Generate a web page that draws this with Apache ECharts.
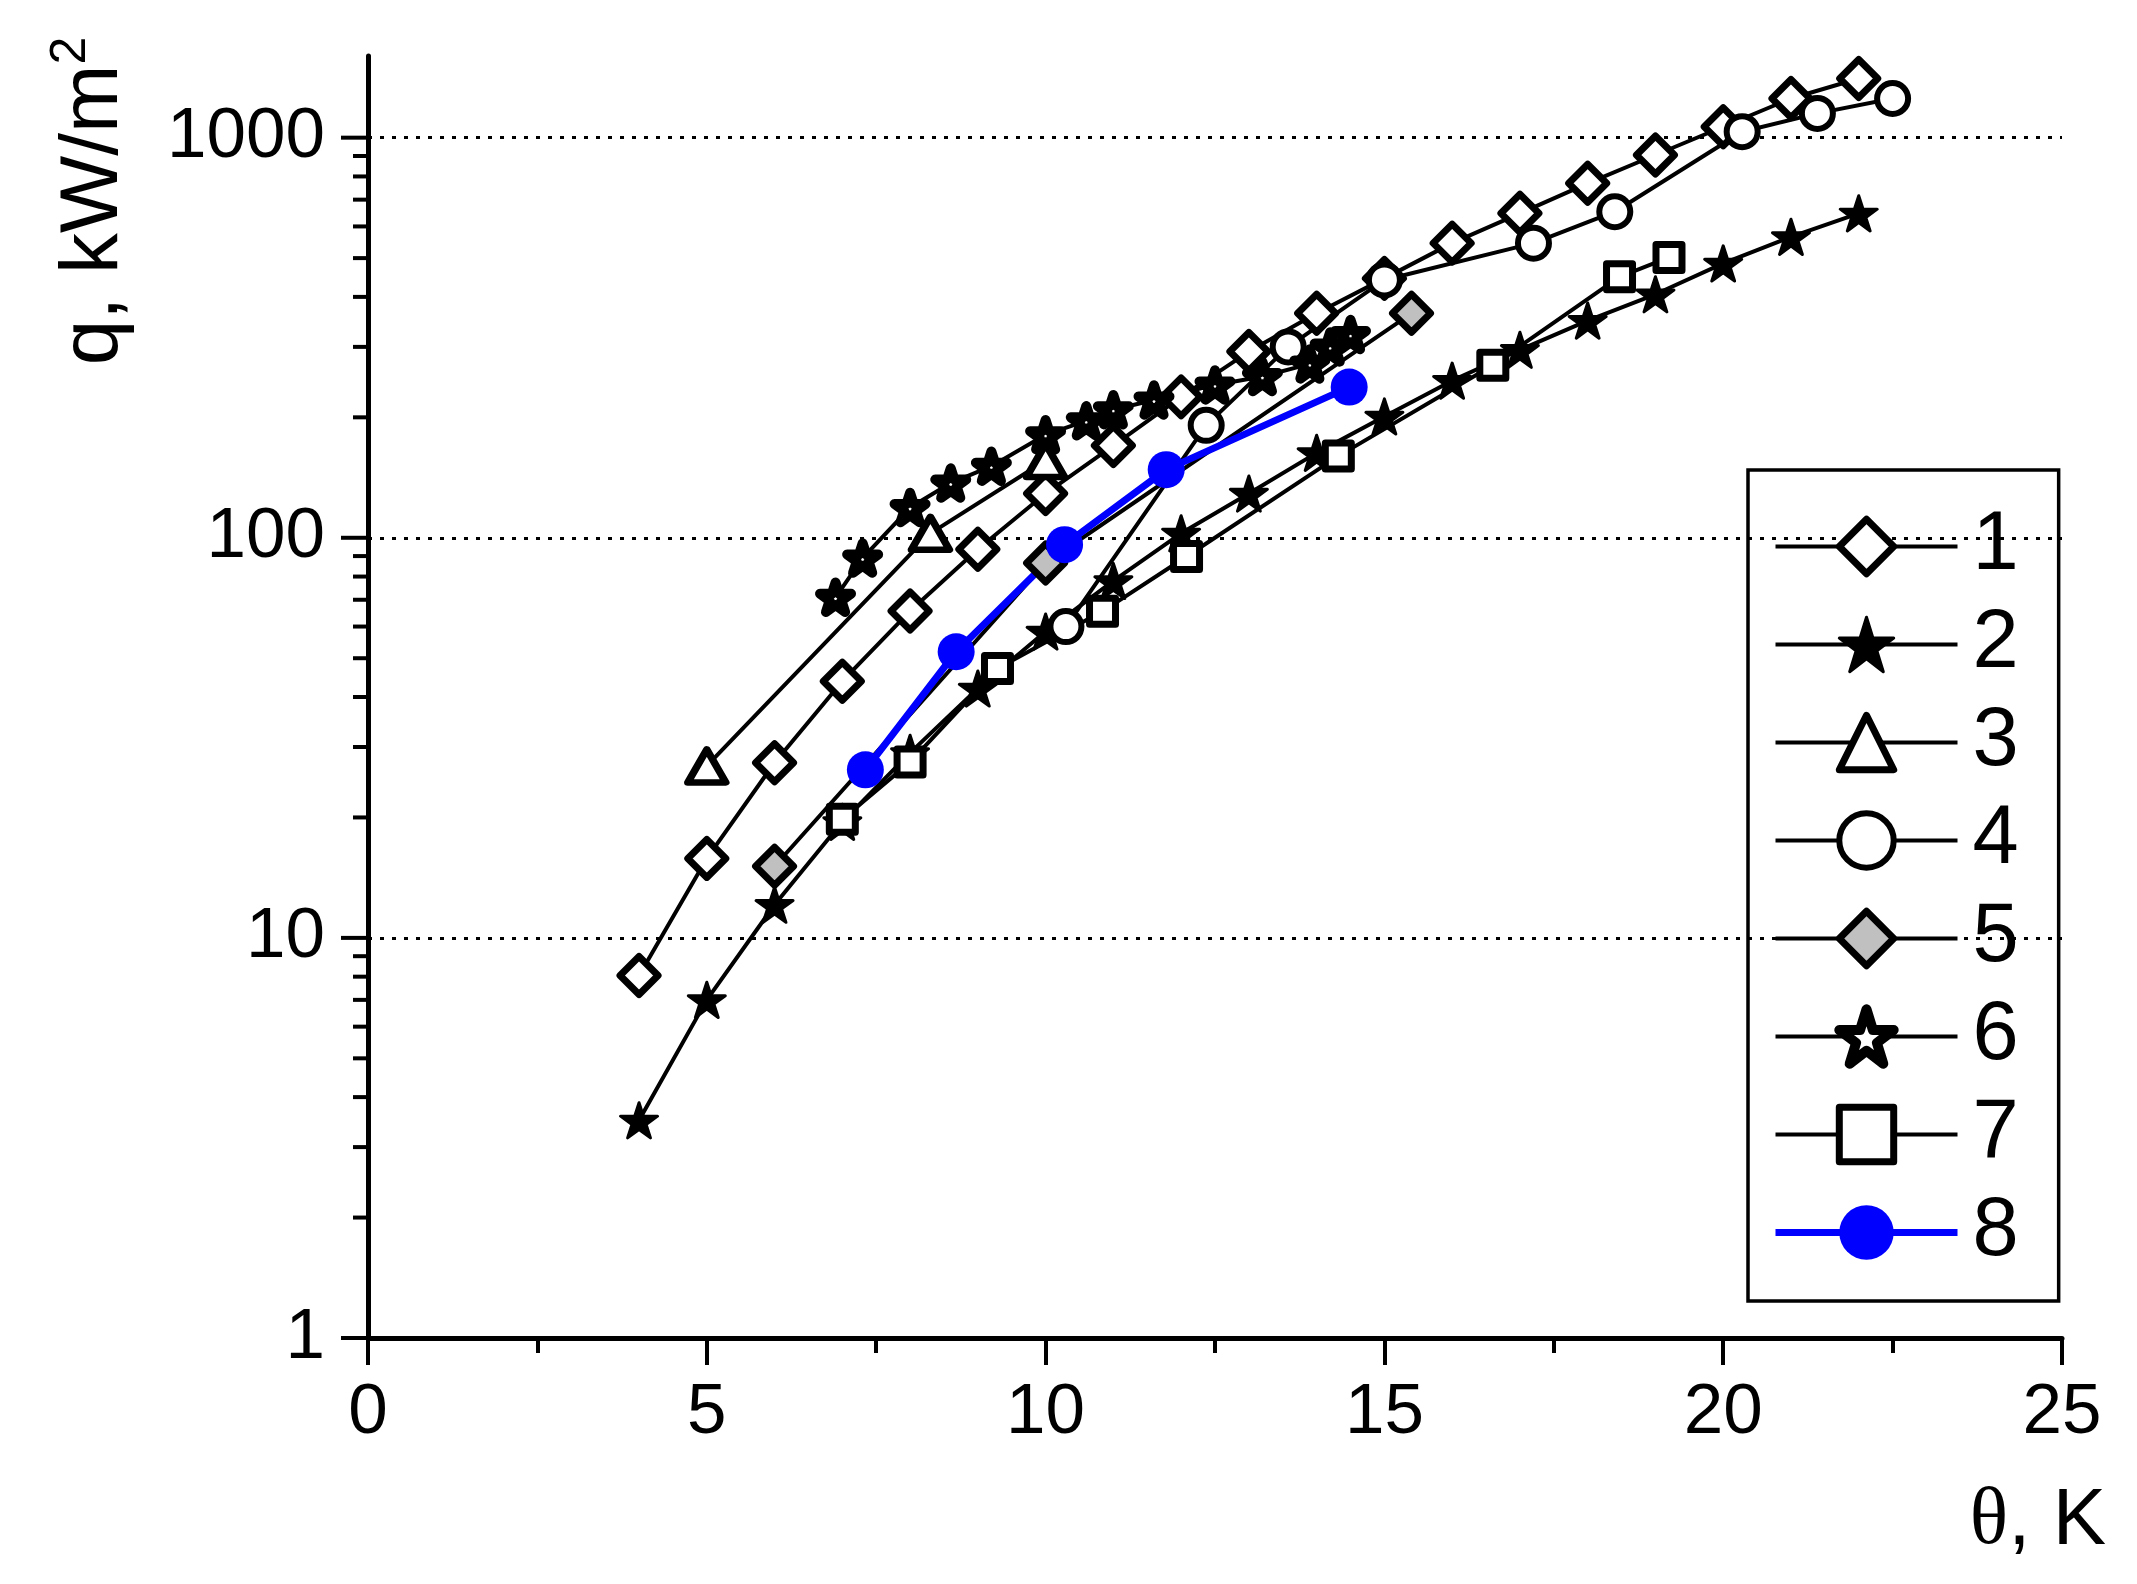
<!DOCTYPE html>
<html>
<head>
<meta charset="utf-8">
<script src="https://cdn.jsdelivr.net/npm/echarts@6/dist/echarts.min.js"></script>
<style>
  html, body { margin: 0; background: #fff; }
  #chart { width: 2137px; height: 1584px; }
</style>
</head>
<body>
<div id="chart"></div>
<script>
// 数据：θ (K) 与 q (kW/m²)，按图例编号分组
const theta1 = [4, 5, 6, 7, 8, 9, 10, 11, 12, 13, 14, 15, 16, 17, 18, 19, 20, 21, 22]
const q1 = [8.05, 15.8, 27.4, 43.8, 65.6, 93.6, 129, 170, 225, 292, 364, 445, 545, 647, 769, 905, 1065, 1253, 1406]

const theta2 = [4, 5, 6, 7, 8, 9, 10, 11, 12, 13, 14, 15, 16, 17, 18, 19, 20, 21, 22]
const q2 = [3.5, 7.0, 12.1, 19.5, 29, 42, 58.3, 78, 102.6, 129, 163, 201, 247, 295, 349, 406, 485, 565, 647]

const theta3 = [5, 8.3, 10]
const q3 = [26.9, 102.6, 156]

const theta4 = [10.3, 12.37, 13.58, 15.0, 17.2, 18.4, 20.28, 21.39, 22.5]
const q4 = [60, 191, 300, 441, 545, 653, 1035, 1150, 1253]

const theta5 = [6, 10, 15.4]
const q5 = [15.1, 86.5, 364]

const theta6 = [6.9, 7.3, 8.0, 8.6, 9.2, 10.0, 10.6, 11.0, 11.6, 12.5, 13.2, 13.9, 14.2, 14.5]
const q6 = [71, 89, 119, 137, 151, 181, 196, 209, 221, 241, 253, 272, 300, 322]

const theta7 = [7.0, 8.0, 9.29, 10.84, 12.08, 14.32, 16.6, 18.47, 19.2]
const q7 = [19.8, 27.5, 47.1, 65.5, 89.8, 160, 270, 449, 502]

const theta8 = [7.34, 8.68, 10.28, 11.78, 14.48]
const q8 = [26.3, 51.9, 96.1, 148, 238]

const legendNames = ['1', '2', '3', '4', '5', '6', '7', '8']

// 坐标轴刻度
const yMajorTicks = [1, 10, 100, 1000]
const yMinorTicks = [2, 3, 4, 5, 6, 7, 8, 9, 20, 30, 40, 50, 60, 70, 80, 90, 200, 300, 400, 500, 600, 700, 800, 900]

const FONT = "'Liberation Sans', Arial, sans-serif"
const STAR = 'path://M50,0 L61.2,34.5 L97.6,34.5 L68.2,55.9 L79.4,90.5 L50,69.1 L20.6,90.5 L31.8,55.9 L2.4,34.5 L38.8,34.5 Z'

// 各组标记样式
const markers = [
  { symbol: 'diamond', size: 38, fill: '#fff', borderWidth: 7 },
  { symbol: STAR, size: 37, fill: '#000', borderWidth: 3 },
  { symbol: 'triangle', size: [38, 33], fill: '#fff', borderWidth: 7 },
  { symbol: 'circle', size: 31, fill: '#fff', borderWidth: 6 },
  { symbol: 'diamond', size: 38, fill: '#c0c0c0', borderWidth: 7 },
  { symbol: STAR, size: 31, fill: '#fff', borderWidth: 10 },
  { symbol: 'rect', size: 26, fill: '#fff', borderWidth: 7 },
  { symbol: 'circle', size: 37, fill: '#0000ff', border: '#0000ff', borderWidth: 0, line: '#0000ff', lineWidth: 7 }
]

const pairs = (xs, ys) => xs.map((x, i) => [x, ys[i]])

const lineStyleOf = m => ({ color: m.line || '#000', width: m.lineWidth || 4 })
const itemStyleOf = m => ({
  color: m.fill,
  borderColor: m.border || '#000',
  borderWidth: m.borderWidth,
  borderJoin: 'round'
})

function lineSeries(name, xs, ys, m) {
  return {
    name,
    type: 'line',
    data: pairs(xs, ys),
    symbol: m.symbol,
    symbolSize: m.size,
    symbolKeepAspect: true,
    lineStyle: lineStyleOf(m),
    itemStyle: itemStyleOf(m),
    emphasis: { disabled: true },
    animation: false
  }
}

const chart = echarts.init(document.getElementById('chart'))

chart.setOption({
  backgroundColor: '#fff',
  animation: false,
  grid: { left: 368, right: 75, top: 56, bottom: 246 },
  legend: {
    data: legendNames.map((n, i) => ({
      name: n,
      itemStyle: itemStyleOf(markers[i]),
      lineStyle: lineStyleOf(markers[i])
    })),
    orient: 'vertical',
    left: 1748,
    top: 470,
    padding: [35, 40, 27, 24],
    borderColor: '#000',
    borderWidth: 3.5,
    itemWidth: 182,
    itemHeight: 68,
    itemGap: 15,
    selectedMode: false,
    textStyle: { fontSize: 83, color: '#000', fontFamily: FONT, padding: [0, 0, 0, 10] }
  },
  xAxis: {
    type: 'value',
    min: 0,
    max: 25,
    interval: 5,
    axisLine: { onZero: false, lineStyle: { color: '#000', width: 5 } },
    axisTick: { length: 27, lineStyle: { color: '#000', width: 4 } },
    minorTick: { show: true, splitNumber: 2, length: 15, lineStyle: { color: '#000', width: 4 } },
    axisLabel: { fontSize: 71, color: '#000', fontFamily: FONT, margin: 40 },
    splitLine: { show: false }
  },
  yAxis: {
    type: 'log',
    logBase: 10,
    min: 1,
    max: 1600,
    axisLine: { onZero: false, lineStyle: { color: '#000', width: 5 } },
    axisTick: { show: false },
    axisLabel: {
      fontSize: 71,
      color: '#000',
      fontFamily: FONT,
      margin: 43,
      showMaxLabel: false,
      padding: [0, 0, 10, 0],
      formatter: v => (yMajorTicks.includes(Math.round(v)) ? String(Math.round(v)) : '')
    },
    splitLine: {
      show: true,
      showMinLine: false,
      showMaxLine: false,
      lineStyle: { color: '#000', width: 3, type: [4, 8] }
    }
  },
  graphic: [
    {
      type: 'text',
      x: 94,
      y: 201,
      rotation: Math.PI / 2,
      style: {
        text: '{a|q, kW/m}{s|2}',
        align: 'center',
        verticalAlign: 'middle',
        rich: {
          a: { fontSize: 82, fontFamily: FONT, fill: '#000', lineHeight: 96 },
          s: { fontSize: 50, fontFamily: FONT, fill: '#000', lineHeight: 50, verticalAlign: 'top' }
        }
      }
    },
    {
      type: 'text',
      x: 2106,
      y: 1522,
      style: {
        text: '{t|θ}{k|, K}',
        align: 'right',
        verticalAlign: 'middle',
        rich: {
          t: { fontSize: 80, fontFamily: "'Liberation Serif', serif", fill: '#000' },
          k: { fontSize: 80, fontFamily: FONT, fill: '#000' }
        }
      }
    }
  ],
  series: [
    lineSeries('1', theta1, q1, markers[0]),
    lineSeries('2', theta2, q2, markers[1]),
    lineSeries('3', theta3, q3, markers[2]),
    lineSeries('4', theta4, q4, markers[3]),
    lineSeries('5', theta5, q5, markers[4]),
    lineSeries('6', theta6, q6, markers[5]),
    lineSeries('7', theta7, q7, markers[6]),
    lineSeries('8', theta8, q8, markers[7]),
    {
      // y 轴刻度（对数轴主/次刻度）
      type: 'custom',
      silent: true,
      clip: false,
      data: yMajorTicks.concat(yMinorTicks).map(v => [0, v]),
      encode: { x: 0, y: 1 },
      renderItem(params, api) {
        const v = api.value(1)
        const p = api.coord([0, v])
        const len = yMajorTicks.includes(v) ? 27 : 15
        return {
          type: 'line',
          shape: { x1: p[0] - len, y1: p[1], x2: p[0], y2: p[1] },
          style: { stroke: '#000', lineWidth: 4 }
        }
      }
    }
  ]
})
</script>
</body>
</html>
